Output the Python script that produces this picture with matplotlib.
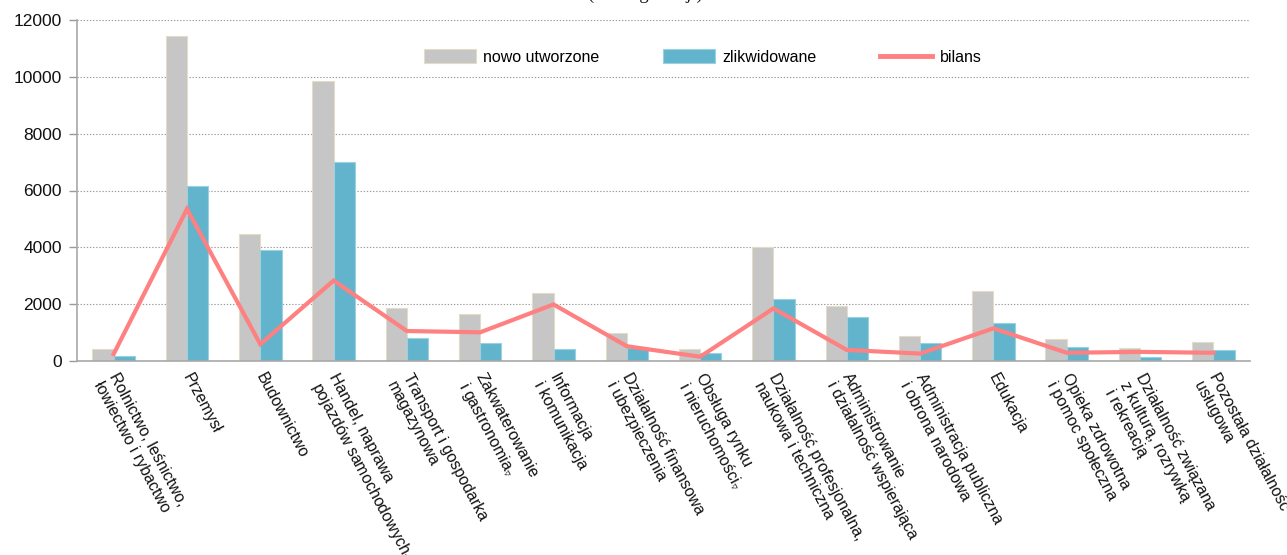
import matplotlib
matplotlib.use("Agg")
import matplotlib.pyplot as plt
import numpy as np
from matplotlib.patches import Patch
from matplotlib.lines import Line2D
from matplotlib.transforms import ScaledTranslation

plt.rcParams['font.family'] = ['Liberation Sans', 'DejaVu Sans']

categories = [
    "Rolnictwo, leśnictwo,\nłowiectwo i rybactwo",
    "Przemysł",
    "Budownictwo",
    "Handel, naprawa\npojazdów samochodowych$_{\\triangledown}$",
    "Transport i gospodarka\nmagazynowa",
    "Zakwaterowanie\ni gastronomia$_{\\triangledown}$",
    "Informacja\ni komunikacja",
    "Działalność finansowa\ni ubezpieczenia",
    "Obsługa rynku\ni nieruchomości$_{\\triangledown}$",
    "Działalność profesjonalna,\nnaukowa i techniczna",
    "Administrowanie\ni działalność wspierająca",
    "Administracja publiczna\ni obrona narodowa",
    "Edukacja",
    "Opieka zdrowotna\ni pomoc społeczna",
    "Działalność związana\nz kulturą, rozrywką\ni rekreacją",
    "Pozostała działalność\nusługowa",
]
nowo_utworzone = [420, 11450, 4480, 9850, 1850, 1640, 2380, 1000, 420, 4000, 1950, 880, 2470, 775, 445, 670]
zlikwidowane = [175, 6150, 3890, 7020, 800, 620, 410, 450, 270, 2170, 1560, 620, 1330, 480, 130, 390]
bilans = [245, 5350, 590, 2830, 1055, 1010, 1990, 520, 150, 1850, 390, 260, 1150, 290, 320, 290]
yticks = [0, 2000, 4000, 6000, 8000, 10000, 12000]
legend_labels = ["nowo utworzone", "zlikwidowane", "bilans"]
title_text = "(według sekcji)"

grey = "#C5C6C5"
grey_edge = "#E4DCC6"
blue = "#62B4CC"
blue_edge = "#9BD0E0"
red = "#FF8080"

W, H = 1287, 555
fig = plt.figure(figsize=(W / 100, H / 100), dpi=100)
ax = fig.add_axes([77 / W, 1 - 361 / H, (1250 - 77) / W, (361 - 20) / H])

x = np.arange(len(categories))
w = 0.29
ax.bar(x - w / 2, nowo_utworzone, width=w, color=grey, edgecolor=grey_edge, linewidth=0.8, zorder=2)
ax.bar(x + w / 2, zlikwidowane, width=w, color=blue, edgecolor=blue_edge, linewidth=0.8, zorder=2)
ax.plot(x, bilans, color=red, linewidth=3.0, solid_joinstyle='miter', zorder=3)

ax.set_xlim(-0.5, 15.5)
ax.set_ylim(0, 12000)
ax.set_yticks(yticks)
ax.set_yticklabels([str(v) for v in yticks], fontsize=12.5, color="#111111")
ax.yaxis.grid(True, linestyle=(0, (1.2, 1.6)), color="#999999", linewidth=0.8, zorder=0)
ax.set_axisbelow(True)

ax.set_xticks(x)
ax.set_xticklabels(categories, rotation=-62, ha='left', va='top', rotation_mode='anchor',
                   fontsize=11.5, color="#111111", multialignment='left')
ax.tick_params(axis='x', length=0, pad=7)
ax.tick_params(axis='y', length=6, width=1, color="#999999", pad=5)
shift = ScaledTranslation(6 / 100, 0, fig.dpi_scale_trans)
for lab in ax.get_xticklabels():
    lab.set_transform(lab.get_transform() + shift)

for s in ['top', 'right']:
    ax.spines[s].set_visible(False)
for s in ['left', 'bottom']:
    ax.spines[s].set_color("#A8A8A8")
    ax.spines[s].set_linewidth(1.2)

handles = [
    Patch(facecolor=grey, edgecolor=grey_edge, linewidth=0.8),
    Patch(facecolor=blue, edgecolor=blue_edge, linewidth=0.8),
    Line2D([0], [0], color=red, linewidth=3.5),
]
fig.legend(handles, legend_labels, loc='center left', bbox_to_anchor=(424 / W, 1 - 57 / H),
           ncol=3, frameon=False, fontsize=11.5, handlelength=3.25, handleheight=1.0,
           handletextpad=0.45, columnspacing=4.0, borderaxespad=0, borderpad=0)

fig.text(645.5 / W, 1 + 1.0 / H, title_text, family='Liberation Serif', fontsize=13.3,
         ha='center', va='baseline', color="#111111")

fig.savefig("out.png", dpi=100)
